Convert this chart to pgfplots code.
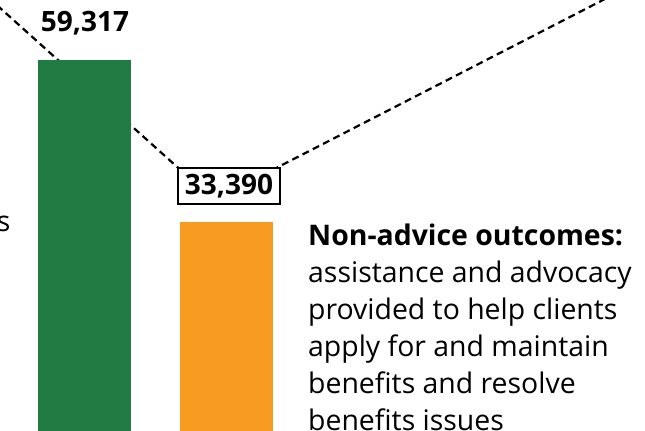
\documentclass[border=0pt]{standalone}
\usepackage{pgfplots}
\pgfplotsset{compat=1.18}
\usepackage{fontspec}
\setmainfont{Open Sans}
\definecolor{bargreen}{HTML}{207C42}
\definecolor{barorange}{HTML}{F79C21}
\begin{document}
\begin{tikzpicture}
\useasboundingbox (0,0) rectangle (645bp,431bp);
\clip (0,0) rectangle (645bp,431bp);
\begin{axis}[at={(0,0)}, anchor=south west, scale only axis,
  width=645bp, height=431bp, hide axis,
  xmin=0, xmax=645, ymin=0, ymax=68960, clip=true]
\addplot[black, line width=2.2bp, dash pattern=on 7bp off 4.5bp, mark=none]
  coordinates {(-20,70560) (214,36960) (660,73650)};
\addplot[ybar, bar width=93, bar shift=0pt, fill=bargreen, draw=none]
  coordinates {(84.5,59317)};
\addplot[ybar, bar width=93, bar shift=0pt, fill=barorange, draw=none]
  coordinates {(226.3,33390)};
\node[anchor=base, inner sep=0, font=\bfseries\fontsize{28bp}{34bp}\selectfont]
  at (axis cs:85,63840) {59,317};
\node[draw=black, line width=2bp, fill=white, minimum width=102bp, minimum height=36bp,
  inner sep=0, font=\bfseries\fontsize{28bp}{34bp}\selectfont]
  at (axis cs:229,39200) {33,390};
\node[anchor=base east, inner sep=0, font=\fontsize{28.4bp}{34bp}\selectfont]
  at (axis cs:10.5,31840) {s};
\tikzset{desc/.style={anchor=base west, inner sep=0, font=\fontsize{28.4bp}{34bp}\selectfont}}
\node[desc, font=\bfseries\fontsize{28.4bp}{34bp}\selectfont] at (axis cs:308,29680) {Non-advice outcomes:};
\node[desc] at (axis cs:308,23760) {assistance and advocacy};
\node[desc] at (axis cs:308,17840) {provided to help clients};
\node[desc] at (axis cs:308,11920) {apply for and maintain};
\node[desc] at (axis cs:308,6000) {benefits and resolve};
\node[desc] at (axis cs:308,80) {benefits issues};
\end{axis}
\end{tikzpicture}
\end{document}
